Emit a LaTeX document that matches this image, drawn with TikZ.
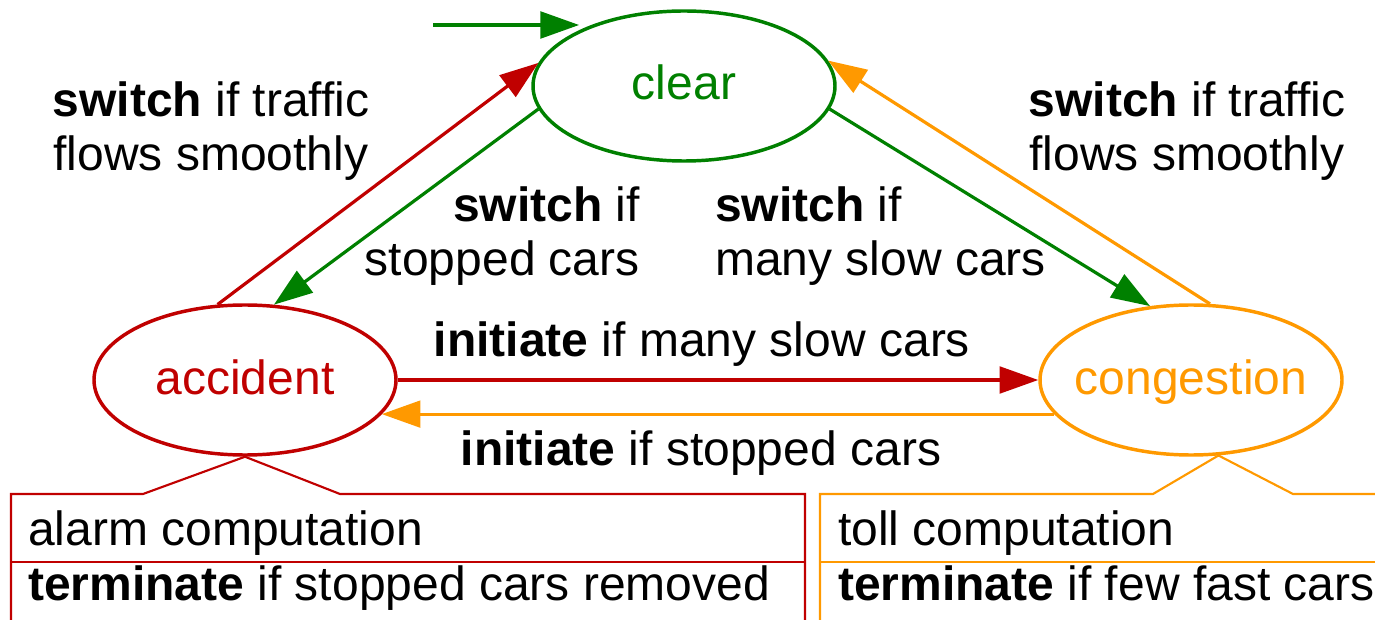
\documentclass[tikz,border=0pt]{standalone}
\usepackage{fontspec}
\setmainfont{Liberation Sans}
\usetikzlibrary{arrows.meta,shapes.geometric,calc}
\definecolor{cgreen}{RGB}{0,128,0}
\definecolor{cred}{RGB}{192,0,0}
\definecolor{corange}{RGB}{255,153,0}
\begin{document}
\begin{tikzpicture}[x=0.75pt,y=-0.75pt,
  state/.style={ellipse,draw,line width=2.6pt,minimum width=226.5pt,minimum height=112.5pt,inner sep=0pt,outer sep=1.3pt},
  statetext/.style={anchor=base,font=\fontsize{36}{40.5}\selectfont,inner sep=0pt},
  lbl/.style={font=\fontsize{36}{40.5}\selectfont,inner sep=0pt},
  conn/.style={line width=2.4pt,-{Triangle[length=29pt,width=20pt]}},
  callout/.style={line width=1.6pt},
]
\useasboundingbox (0,0) rectangle (1375,620);

% states
\node[state,cgreen] (clear) at (684,86) {};
\node[state,cred] (accident) at (245,380) {};
\node[state,corange] (congestion) at (1191,380) {};
\node[statetext,text=cgreen] (tclear) at ([yshift=-10.5pt]clear.center) {clear};
\node[statetext,text=cred] (taccident) at ([yshift=-10.5pt]accident.center) {accident};
\node[statetext,text=corange] (tcongestion) at ([yshift=-10.5pt]congestion.center) {congestion};

% initial arrow
\coordinate (init) at (433,25);
\draw[conn,cgreen] (init) -- (clear.152 |- init);

% transitions
\draw[conn,cred] (accident.110) -- (clear.171);
\draw[conn,cgreen] (clear.189) -- (accident.69);
\draw[conn,cgreen] (clear.351) -- (congestion.119);
\draw[conn,corange] (congestion.76) -- (clear.10);
\draw[conn,cred] (accident.east) -- (congestion.west);
\draw[conn,corange] (congestion.194) -- (accident.-14);

% labels (anchor base = baseline of last line)
\node[lbl,anchor=base,align=center] (l1) at (211,171) {\textbf{switch} if traffic\\flows smoothly};
\node[lbl,anchor=base,align=center] (l2) at (1187,171) {\textbf{switch} if traffic\\flows smoothly};
\node[lbl,anchor=base east,align=right] (l3) at (640,276) {\textbf{switch} if\\stopped cars};
\node[lbl,anchor=base west,align=left] (l4) at (715,276) {\textbf{switch} if\\many slow cars};
\node[lbl,anchor=base] (l5) at (702,357) {\textbf{initiate} if many slow cars};
\node[lbl,anchor=base] (l6) at (701,465) {\textbf{initiate} if stopped cars};

% callout boxes
\draw[callout,cred] (11,620) -- (11,494) -- (143,494) -- (accident.-90) -- (340,494) -- (805,494) -- (805,620);
\draw[callout,cred] (11,562) -- (805,562);
\draw[callout,corange] (820,620) -- (820,494) -- (1153,494) -- (congestion.-70) -- (1293,494) -- (1375,494);
\draw[callout,corange] (820,562) -- (1375,562);

\node[lbl,anchor=base west] (b1) at (28,545) {alarm computation};
\node[lbl,anchor=base west] (b2) at (28,600) {\textbf{terminate} if stopped cars removed};
\node[lbl,anchor=base west] (b3) at (838,545) {toll computation};
\node[lbl,anchor=base west] (b4) at (838,600) {\textbf{terminate} if few fast cars};
\end{tikzpicture}
\end{document}
